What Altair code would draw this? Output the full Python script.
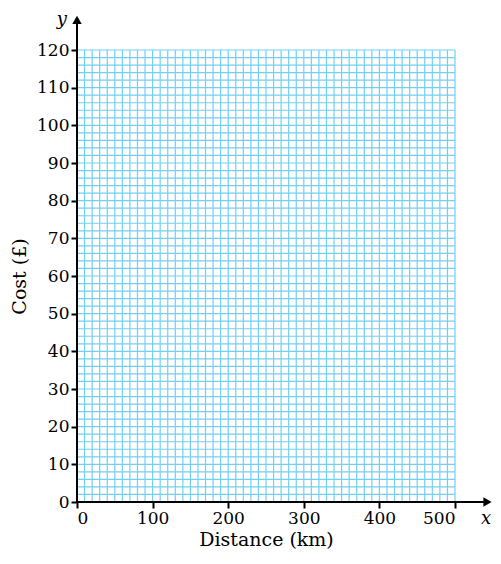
import altair as alt
import pandas as pd

# Axis ranges and tick values
x_major = [0, 100, 200, 300, 400, 500]
y_major = [0, 10, 20, 30, 40, 50, 60, 70, 80, 90, 100, 110, 120]
x_grid = list(range(0, 501, 10))
y_grid = list(range(0, 121, 2))
x_label = "Distance (km)"
y_label = "Cost (£)"

GRID = "#72cff2"
FONT = "DejaVu Serif"

xs = alt.Scale(domain=[0, 500], nice=False, zero=False)
ys = alt.Scale(domain=[0, 120], nice=False, zero=False)

vdf = pd.DataFrame({"x": x_grid, "y0": 0, "y1": 120})
hdf = pd.DataFrame({"y": y_grid, "x0": 0, "x1": 500})

xaxis = alt.Axis(values=x_major, domain=False, grid=False, ticks=True, tickSize=6,
                 tickColor="black", tickWidth=2, labelFont=FONT, labelFontSize=17,
                 labelColor="black", labelPadding=2, labelOverlap=False,
                 title=x_label, titleFont=FONT,
                 titleFontSize=19, titleFontWeight="normal", titleColor="black",
                 titlePadding=4)
yaxis = alt.Axis(values=y_major, domain=False, grid=False, ticks=True, tickSize=6,
                 tickColor="black", tickWidth=2, labelFont=FONT, labelFontSize=17,
                 labelColor="black", labelPadding=2, labelOverlap=False,
                 title=y_label, titleFont=FONT,
                 titleFontSize=19, titleFontWeight="normal", titleColor="black",
                 titlePadding=7)


def X(f):
    return alt.X(f, type="quantitative", scale=xs, axis=xaxis)


def Y(f):
    return alt.Y(f, type="quantitative", scale=ys, axis=yaxis)


vgrid = alt.Chart(vdf).mark_rule(color=GRID, strokeWidth=1.2).encode(
    x=X("x"), y=Y("y0"), y2="y1:Q")
hgrid = alt.Chart(hdf).mark_rule(color=GRID, strokeWidth=1.2).encode(
    y=Y("y"), x=X("x0"), x2="x1:Q")

# axes with arrows
yline = alt.Chart(pd.DataFrame({"x": [0], "y0": [0], "y1": [127]})).mark_rule(
    color="black", strokeWidth=2).encode(x=X("x"), y=Y("y0"), y2="y1:Q")
xline = alt.Chart(pd.DataFrame({"y": [0], "x0": [0], "x1": [540]})).mark_rule(
    color="black", strokeWidth=2).encode(y=Y("y"), x=X("x0"), x2="x1:Q")
yarrow = alt.Chart(pd.DataFrame({"x": [0], "y": [128]})).mark_point(
    shape="triangle-up", filled=True, color="black", size=90, opacity=1).encode(
    x=X("x"), y=Y("y"))
xarrow = alt.Chart(pd.DataFrame({"x": [543], "y": [0]})).mark_point(
    shape="triangle-right", filled=True, color="black", size=90, opacity=1).encode(
    x=X("x"), y=Y("y"))

ytxt = alt.Chart(pd.DataFrame({"x": [-20], "y": [128], "t": ["y"]})).mark_text(
    font=FONT, fontSize=18, fontStyle="italic", color="black", align="center").encode(
    x=X("x"), y=Y("y"), text="t:N")
xtxt = alt.Chart(pd.DataFrame({"x": [541], "y": [-4.5], "t": ["x"]})).mark_text(
    font=FONT, fontSize=18, fontStyle="italic", color="black", align="center").encode(
    x=X("x"), y=Y("y"), text="t:N")

chart = alt.layer(vgrid, hgrid, yline, xline, yarrow, xarrow, ytxt, xtxt).properties(
    width=378, height=452,
    autosize=alt.AutoSizeParams(type="none"),
    padding={"left": 69, "top": 42, "right": 38, "bottom": 54},
).configure_view(stroke=None)

chart.save("out.html", embed_options={"renderer": "svg", "actions": False})
